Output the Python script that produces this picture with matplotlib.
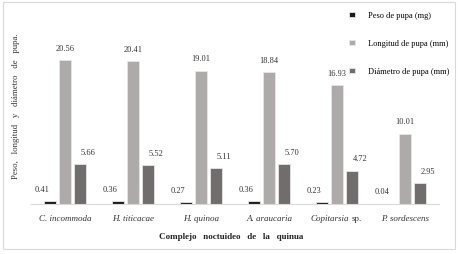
import numpy as np
import matplotlib.pyplot as plt
from matplotlib.patches import Rectangle

# pupal measures per species of the quinoa noctuid complex
species = ["C. incommoda", "H. titicacae", "H. quinoa", "A. araucaria", "Copitarsia", "P. sordescens"]
peso = [0.41, 0.36, 0.27, 0.36, 0.23, 0.04]
longitud = [20.56, 20.41, 19.01, 18.84, 16.93, 10.01]
diametro = [5.66, 5.52, 5.11, 5.70, 4.72, 2.95]
series_names = ["Peso de pupa (mg)", "Longitud de pupa (mm)", "Diámetro de pupa (mm)"]
colors = ["#1c1c1c", "#aeaaa9", "#716d6c"]

plt.rcParams['font.family'] = ['Liberation Serif', 'DejaVu Serif']

fig = plt.figure(figsize=(4.61, 2.55), dpi=100)
ax = fig.add_axes([31/461, 50/255, 408/461, 182/255])

x = np.arange(len(species))
w = 0.176
off = 0.22
series = [peso, longitud, diametro]
label_dx = [-6, 0, 6]  # points
bars = []
for i, vals in enumerate(series):
  b = ax.bar(x + (i - 1) * off, vals, w, color=colors[i], edgecolor="#e8e6e6",
             linewidth=0.6, label=series_names[i], zorder=2)
  bars.append(b)
  for xi, v in zip(x, vals):
    ax.annotate("%.2f" % v, (xi + (i - 1) * off, v), xytext=(label_dx[i], 9),
                textcoords="offset points", ha="center", va="center",
                fontsize=6, color="#333333")

ax.set_xlim(-0.5, 5.5)
ax.set_ylim(0, 26)
ax.set_yticks([])
ax.set_xticks(x)
ax.set_xticklabels([])
ax.tick_params(axis="x", length=0)
for s in ["top", "right", "left"]:
  ax.spines[s].set_visible(False)
ax.spines["bottom"].set_color("#d9d9d9")
ax.spines["bottom"].set_linewidth(0.8)

# tick labels, Copitarsia with "sp." upright
for xi, name in zip(x, species):
  if name == "Copitarsia":
    ax.annotate("Copitarsia", (xi, 0), xytext=(-5, -10), textcoords="offset points",
                ha="center", va="center", fontsize=6.5, style="italic", color="#333333")
    ax.annotate("sp.", (xi, 0), xytext=(10.5, -10), textcoords="offset points",
                ha="left", va="center", fontsize=6.5, color="#333333")
  else:
    ax.annotate(name, (xi, 0), xytext=(0, -10), textcoords="offset points",
                ha="center", va="center", fontsize=6.5, style="italic", color="#333333")

fig.text(231/461, 1 - 237/255, "Complejo   noctuideo   de   la   quinua", ha="center",
         va="center", fontsize=6.5, fontweight="bold", color="#222222")
fig.text(16/461, 1 - 106/255, "Peso,   longitud   y   diámetro   de   pupa.", ha="center",
         va="center", rotation=90, fontsize=6.3, color="#333333")

fig.legend(handles=bars, loc="upper left", bbox_to_anchor=(346/461, 1 - 9/255),
           frameon=False, fontsize=6, handlelength=0.7, handleheight=0.7,
           handletextpad=1.5, labelspacing=2.4, borderaxespad=0)

fig.patches.append(Rectangle((3/461, 5/255), 452/461, 247/255, transform=fig.transFigure,
                             fill=False, edgecolor="#d9d9d9", linewidth=0.8))

fig.savefig("out.png", dpi=100)
